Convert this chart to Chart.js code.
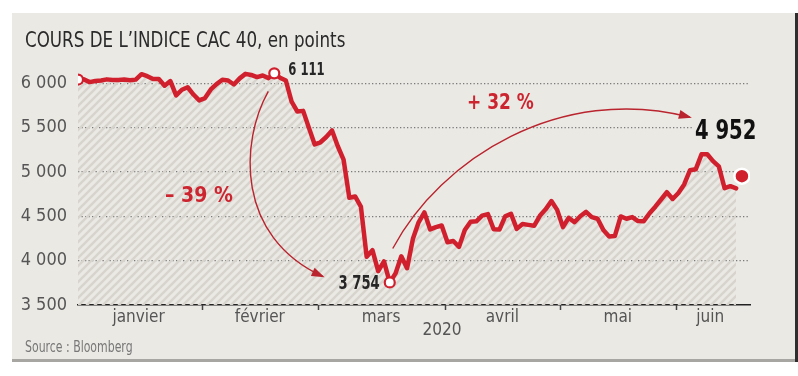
<!DOCTYPE html>
<html lang="fr">
<head>
<meta charset="utf-8">
<title>CAC 40</title>
<script src="https://cdn.jsdelivr.net/npm/chart.js@4.4.1/dist/chart.umd.min.js"></script>
<style>
  html, body { margin: 0; padding: 0; background: #fff; }
  canvas { display: block; }
</style>
</head>
<body>
<canvas id="chart_cac40" width="798" height="376"></canvas>
<script>
// clôtures quotidiennes du CAC 40, par mois (jours de bourse)
const monthNames = ['janvier', 'février', 'mars', 'avril', 'mai', 'juin'];
const janValues = [6041, 6044, 6012, 6024, 6031, 6043, 6037, 6036, 6041, 6033, 6040, 6101, 6079, 6046, 6047, 5972, 6024, 5863, 5926, 5954, 5872, 5806];
const febValues = [5832, 5929, 5990, 6038, 6030, 5985, 6054, 6105, 6093, 6069, 6086, 6057, 6111, 6062, 6030, 5792, 5680, 5688, 5496, 5310];
const marValues = [5334, 5393, 5467, 5289, 5139, 4708, 4723, 4610, 4044, 4118, 3882, 3992, 3754, 3856, 4049, 3914, 4243, 4432, 4544, 4352, 4378, 4396];
const aprValues = [4207, 4221, 4155, 4346, 4438, 4443, 4507, 4524, 4354, 4350, 4499, 4528, 4358, 4412, 4403, 4393, 4505, 4578, 4671, 4572];
const mayValues = [4378, 4483, 4433, 4501, 4550, 4490, 4472, 4345, 4273, 4278, 4498, 4472, 4491, 4446, 4445, 4534, 4608, 4689, 4771, 4695];
const junValues = [4763, 4859, 5019, 5029, 5198, 5199, 5122, 5063, 4816, 4839, 4815];
const lastValue = 4952;
const yTicks = [3500, 4000, 4500, 5000, 5500, 6000];

const FONT = '"Liberation Sans Narrow", "DejaVu Sans Condensed", "Open Sans", sans-serif';
const RED = '#d0202e';
const ARROW = '#b9242e';
const BG = '#ebe9e4';

const months = [janValues, febValues, marValues, aprValues, mayValues, junValues];
const lineValues = months.flat();
const lastIndex = lineValues.length;

// milieu de chaque mois (libellé) et séparations (petits traits)
const monthMids = [];
const monthBounds = [];
let start = 0;
months.forEach((m, i) => {
    const end = start + m.length - 1 + (i === months.length - 1 ? 1 : 0);
    monthMids.push((start + end) / 2);
    if (i > 0) monthBounds.push(start - 0.5);
    start += m.length;
});

const linePoints = lineValues.map((v, i) => ({ x: i, y: v }));
const iMax = lineValues.indexOf(Math.max(...lineValues));
const iMin = lineValues.indexOf(Math.min(...lineValues));
const markerPoints = [0, iMax, iMin].map(i => ({ x: i, y: lineValues[i] }));

function fmt(v) {
    return String(Math.round(v)).replace(/\B(?=(\d{3})+(?!\d))/g, ' ');
}

function makeHatch() {
    const s = 8;
    const c = document.createElement('canvas');
    c.width = s; c.height = s;
    const g = c.getContext('2d');
    g.strokeStyle = '#d7d3cd';
    g.lineWidth = 2.4;
    g.beginPath();
    g.moveTo(-2, s + 2); g.lineTo(s + 2, -2);
    g.moveTo(-2, 2); g.lineTo(2, -2);
    g.moveTo(s - 2, s + 2); g.lineTo(s + 2, s - 2);
    g.stroke();
    return g.createPattern(c, 'repeat');
}

// texte resserré horizontalement (police étroite)
function text(ctx, str, x, y, font, sx, align) {
    ctx.save();
    ctx.font = font;
    ctx.textAlign = align || 'left';
    ctx.textBaseline = 'middle';
    ctx.translate(x, y);
    ctx.scale(sx, 1);
    ctx.fillText(str, 0, 0);
    const w = ctx.measureText(str).width * sx;
    ctx.restore();
    return w;
}

function arrow(ctx, p0, c1, c2, p1) {
    ctx.beginPath();
    ctx.moveTo(p0[0], p0[1]);
    ctx.bezierCurveTo(c1[0], c1[1], c2[0], c2[1], p1[0], p1[1]);
    ctx.stroke();
    const a = Math.atan2(p1[1] - c2[1], p1[0] - c2[0]);
    const L = 11, W = 4.5;
    ctx.beginPath();
    ctx.moveTo(p1[0] + Math.cos(a) * 2, p1[1] + Math.sin(a) * 2);
    ctx.lineTo(p1[0] - Math.cos(a) * L - Math.sin(a) * W, p1[1] - Math.sin(a) * L + Math.cos(a) * W);
    ctx.lineTo(p1[0] - Math.cos(a) * L + Math.sin(a) * W, p1[1] - Math.sin(a) * L - Math.cos(a) * W);
    ctx.closePath();
    ctx.fill();
}

const decor = {
    id: 'decor',
    beforeDraw(chart) {
        const ctx = chart.ctx;
        ctx.save();
        ctx.fillStyle = '#fff';
        ctx.fillRect(0, 0, chart.width, chart.height);
        ctx.fillStyle = BG;
        ctx.fillRect(12, 13, 783, 347);
        ctx.fillStyle = '#a8a6a2';
        ctx.fillRect(12, 359, 783, 3);
        ctx.fillStyle = '#2e2e2e';
        ctx.fillRect(795, 13, 3, 349);
        ctx.restore();
    },
    afterDatasetsDraw(chart) {
        const ctx = chart.ctx;
        const xs = chart.scales.x, ys = chart.scales.y;
        const px = i => xs.getPixelForValue(i);
        const py = v => ys.getPixelForValue(v);
        ctx.save();

        // étiquettes des points remarquables
        ctx.fillStyle = '#262626';
        text(ctx, fmt(lineValues[iMax]), px(iMax) + 14, py(lineValues[iMax]) - 3, 'bold 17px ' + FONT, 0.76, 'left');
        text(ctx, fmt(lineValues[iMin]), px(iMin) - 10, py(lineValues[iMin]) + 2, 'bold 19px ' + FONT, 0.77, 'right');

        // dernier cours
        const lx = px(lastIndex), ly = py(lastValue);
        ctx.fillStyle = BG;
        ctx.fillRect(lx - 50, ly - 58, 68, 28);
        ctx.fillStyle = '#111';
        text(ctx, fmt(lastValue), lx - 47, ly - 44, 'bold 26px ' + FONT, 0.84, 'left');

        // flèches de variation
        ctx.strokeStyle = ARROW;
        ctx.fillStyle = ARROW;
        ctx.lineWidth = 1.4;
        const hx = px(iMax), hy = py(lineValues[iMax]);
        const bx = px(iMin), by = py(lineValues[iMin]);
        arrow(ctx, [hx - 6, hy + 18], [hx - 34, hy + 68], [hx - 39, hy + 163], [bx - 67, by - 6]);
        arrow(ctx, [bx + 3, by - 34], [bx + 51, by - 124], [bx + 171, by - 199], [lx - 52, ly - 59]);

        ctx.fillStyle = '#cc2530';
        const down = Math.round((lineValues[iMin] / lineValues[iMax] - 1) * 100);
        const up = Math.round((lastValue / lineValues[iMin] - 1) * 100);
        text(ctx, '– ' + Math.abs(down) + ' %', 165, 197, 'bold 21px ' + FONT, 1, 'left');
        text(ctx, '+ ' + up + ' %', 467, 104, 'bold 21px ' + FONT, 0.9, 'left');
        ctx.restore();
    },
    afterDraw(chart) {
        const ctx = chart.ctx;
        const xs = chart.scales.x;
        const a = chart.chartArea;
        ctx.save();
        ctx.strokeStyle = '#444';
        ctx.lineWidth = 1.5;
        monthBounds.forEach(b => {
            const x = Math.round(xs.getPixelForValue(b)) + 0.5;
            ctx.beginPath();
            ctx.moveTo(x, a.bottom);
            ctx.lineTo(x, a.bottom + 5);
            ctx.stroke();
        });
        ctx.fillStyle = '#2a2a2a';
        text(ctx, 'COURS DE L\u2019INDICE CAC 40, en points', 25, 42, '21px ' + FONT, 0.886, 'left');
        ctx.fillStyle = '#777';
        text(ctx, 'Source : Bloomberg', 25, 348, '15px ' + FONT, 0.81, 'left');
        ctx.fillStyle = '#555';
        text(ctx, '2020', 442, 330, '18px ' + FONT, 0.95, 'center');
        ctx.restore();
    }
};

new Chart(document.getElementById('chart_cac40'), {
    type: 'line',
    data: {
        datasets: [
            {
                data: [{ x: lastIndex, y: lastValue }],
                showLine: false,
                pointRadius: 7.5,
                pointBackgroundColor: RED,
                pointBorderColor: '#fff',
                pointBorderWidth: 2.5,
                order: 0
            },
            {
                data: markerPoints,
                showLine: false,
                pointRadius: 5,
                pointBackgroundColor: '#fff',
                pointBorderColor: RED,
                pointBorderWidth: 2.2,
                order: 1
            },
            {
                data: linePoints,
                borderColor: RED,
                borderWidth: 4.5,
                borderJoinStyle: 'round',
                borderCapStyle: 'round',
                tension: 0,
                pointRadius: 0,
                fill: 'start',
                backgroundColor: makeHatch(),
                order: 2
            }
        ]
    },
    options: {
        responsive: false,
        animation: false,
        layout: { padding: { left: 0, top: 61, right: 48, bottom: 0 } },
        plugins: { legend: { display: false }, tooltip: { enabled: false }, title: { display: false } },
        scales: {
            x: {
                type: 'linear',
                min: 0,
                max: lastIndex + 1.4,
                afterBuildTicks: axis => { axis.ticks = monthMids.map(v => ({ value: v })); },
                afterFit: axis => { axis.height = 71; },
                grid: { display: false, drawTicks: false },
                border: { display: true, color: '#222', width: 1.6 },
                ticks: {
                    autoSkip: false,
                    maxRotation: 0,
                    padding: 2,
                    color: '#555',
                    font: { family: FONT, size: 17 },
                    callback: (v, i) => monthNames[i]
                }
            },
            y: {
                min: 3500,
                max: 6250,
                afterBuildTicks: axis => { axis.ticks = yTicks.map(v => ({ value: v })); },
                afterFit: axis => { axis.width = 78; },
                grid: {
                    drawTicks: false,
                    color: ctx => ctx.tick && ctx.tick.value === 3500 ? 'rgba(0,0,0,0)' : '#7a7a7a',
                    lineWidth: 1.2
                },
                border: { display: false, dash: [1.3, 2.2] },
                ticks: {
                    padding: 11,
                    color: '#555',
                    font: { family: FONT, size: 18 },
                    callback: v => fmt(v)
                }
            }
        }
    },
    plugins: [decor]
});
</script>
</body>
</html>
